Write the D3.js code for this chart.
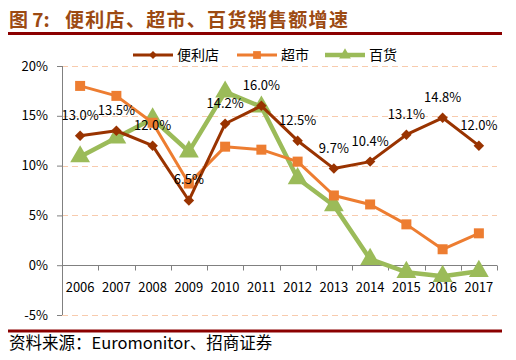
<!DOCTYPE html>
<html><head><meta charset="utf-8">
<script src="https://cdnjs.cloudflare.com/ajax/libs/d3/7.8.5/d3.min.js"></script>
<style>body{margin:0;background:#fff}svg{display:block}</style>
</head><body>
<script>
const years = ["2006","2007","2008","2009","2010","2011","2012","2013","2014","2015","2016","2017"];
const conv = [13.0,13.5,12.0,6.5,14.2,16.0,12.5,9.7,10.4,13.1,14.8,12.0];
const superm = [18.0,17.0,14.3,8.2,11.9,11.6,10.4,7.0,6.1,4.1,1.6,3.2];
const dept = [10.9,12.8,14.7,11.4,17.4,15.9,8.7,6.0,0.6,-0.7,-1.1,-0.6];
const yTicks = [-5,0,5,10,15,20];
const seriesNames = ["便利店","超市","百货"];
const colors = ["#993300","#ED7D31","#9BBB59"];

const W=516,H=360;
const svg=d3.select("body").append("svg").attr("width",W).attr("height",H);
const font="'Noto Sans CJK SC','Liberation Sans',sans-serif";
const x=d3.scaleBand().domain(years).range([62,497]).paddingInner(0).paddingOuter(0);
const y=d3.scaleLinear().domain([-5,20]).range([315,66]);

// title
const tt=svg.append("text").attr("y",27).attr("font-family","'Noto Sans CJK SC',sans-serif")
 .attr("font-size",19).attr("font-weight","bold").attr("fill","#9C4A12");
tt.append("tspan").attr("x",9).text("图 7:");
tt.append("tspan").attr("x",65).attr("letter-spacing",1.3).text("便利店、超市、百货销售额增速");
svg.append("line").attr("x1",8).attr("x2",502).attr("y1",33.5).attr("y2",33.5).attr("stroke","#8B0000").attr("stroke-width",3);

// grid
svg.append("g").selectAll("line").data(yTicks.filter(d=>d!==0)).join("line")
 .attr("x1",62).attr("x2",497).attr("y1",d=>Math.round(y(d))+0.5).attr("y2",d=>Math.round(y(d))+0.5)
 .attr("stroke","#F8CBAD").attr("stroke-width",1).attr("stroke-dasharray","6,4");

// y axis
const ya=svg.append("g").attr("transform","translate(62,0)").call(d3.axisLeft(y).tickValues(yTicks).tickFormat(d=>d+"%").tickSize(5));
ya.select(".domain").attr("stroke","#808080").attr("d","M0.5,"+y(-5)+"V"+y(20));
ya.selectAll(".tick line").attr("stroke","#808080").attr("x1",-5).attr("x2",0);
ya.selectAll(".tick text").attr("font-family",font).attr("font-size",13).attr("fill","#000").attr("x",-14);

// x axis at 0
const xa=svg.append("g").attr("transform","translate(0,"+(Math.round(y(0))+0.5)+")");
xa.append("line").attr("x1",62).attr("x2",497).attr("stroke","#808080");
xa.selectAll("line.t").data(years.concat(["end"])).join("line").attr("class","t")
 .attr("x1",(d,i)=>Math.round(62+x.bandwidth()*i)+0.5).attr("x2",(d,i)=>Math.round(62+x.bandwidth()*i)+0.5)
 .attr("y1",0).attr("y2",5).attr("stroke","#808080");
xa.selectAll("text").data(years).join("text").attr("x",d=>x(d)+x.bandwidth()/2).attr("y",26)
 .attr("text-anchor","middle").attr("font-family",font).attr("font-size",13).attr("fill","#000").text(d=>d);

const cx=d=>x(d)+x.bandwidth()/2;
const line=d3.line().x((d,i)=>cx(years[i])).y(d=>y(d));
const data=[conv,superm,dept];
const widths=[3,3,4.5];
[2,1,0].forEach(k=>{
 const g=svg.append("g");
 g.append("path").datum(data[k]).attr("d",line).attr("fill","none").attr("stroke",colors[k]).attr("stroke-width",widths[k]).attr("stroke-linejoin","round");
 const m=g.selectAll("path.m").data(data[k]).join("path").attr("class","m")
  .attr("transform",(d,i)=>"translate("+cx(years[i])+","+y(d)+")").attr("fill",colors[k]);
 if(k===0) m.attr("d",d3.symbol(d3.symbolDiamond2,70));
 if(k===1) m.attr("d",d3.symbol(d3.symbolSquare,100));
 if(k===2) m.attr("d",d3.symbol(d3.symbolTriangle,170));
});
// labels
svg.append("g").selectAll("text").data(conv).join("text")
 .attr("x",(d,i)=>cx(years[i])).attr("y",d=>y(d)-16).attr("text-anchor","middle")
 .attr("font-family",font).attr("font-size",13).attr("fill","#000").text(d=>d.toFixed(1)+"%");

// legend
const lg=[{x:133,t:177},{x:237,t:281},{x:325,t:369}];
lg.forEach((p,k)=>{
 const g=svg.append("g");
 g.append("line").attr("x1",p.x).attr("x2",p.x+40).attr("y1",55).attr("y2",55).attr("stroke",colors[k]).attr("stroke-width",widths[k]);
 const s=[d3.symbolDiamond2,d3.symbolSquare,d3.symbolTriangle][k];
 g.append("path").attr("d",d3.symbol(s,[40,60,60][k])).attr("transform","translate("+(p.x+20)+",55)").attr("fill",colors[k]);
 g.append("text").attr("x",p.t).attr("y",60).attr("font-family",font).attr("font-size",14).attr("fill","#000").text(seriesNames[k]);
});

// footer
svg.append("line").attr("x1",8).attr("x2",502).attr("y1",331).attr("y2",331).attr("stroke","#8B0000").attr("stroke-width",3);
svg.append("text").attr("x",9).attr("y",349).attr("font-family","'Noto Sans CJK SC',sans-serif").attr("font-size",16.5).attr("fill","#000").text("资料来源：Euromonitor、招商证券");
</script>
</body></html>
